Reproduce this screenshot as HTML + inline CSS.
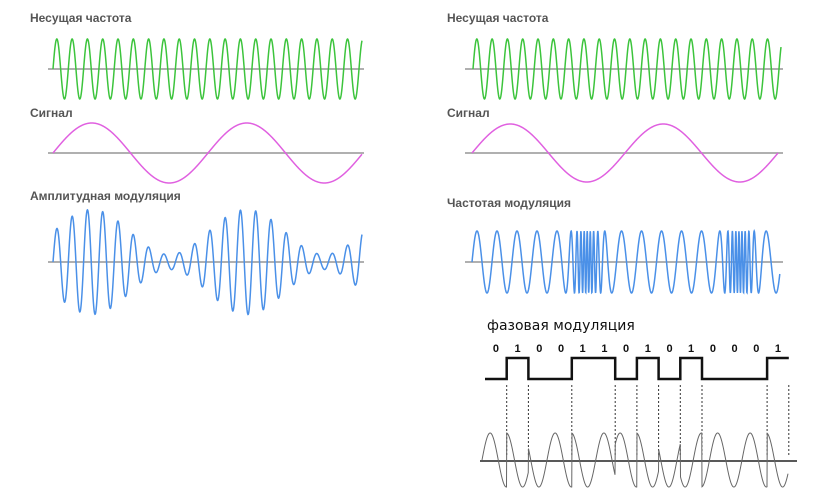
<!DOCTYPE html>
<html><head><meta charset="utf-8">
<style>
html,body{margin:0;padding:0;background:#fff;}
svg{display:block;}
.lbl{font-family:"Liberation Sans","DejaVu Sans",sans-serif;font-size:12px;font-weight:bold;fill:#555;}
.lbl2{font-family:"DejaVu Sans","Liberation Sans",sans-serif;font-size:14px;fill:#111;}
.bit{font-family:"Liberation Sans",sans-serif;font-size:11px;font-weight:bold;fill:#111;text-anchor:middle;}
</style></head>
<body>
<svg id="chart" width="814" height="494" viewBox="0 0 814 494" xmlns="http://www.w3.org/2000/svg">
<text class="lbl" x="30" y="22">Несущая частота</text>
<text class="lbl" x="30" y="117">Сигнал</text>
<text class="lbl" x="30" y="200">Амплитудная модуляция</text>
<text class="lbl" x="447" y="22">Несущая частота</text>
<text class="lbl" x="447" y="117">Сигнал</text>
<text class="lbl" x="447" y="207">Частотая модуляция</text>
<text class="lbl2" x="487" y="330">фазовая модуляция</text>
<g id="g"></g>
</svg>
<script>
const carrierPeriod = 15.3;
const signalPeriodL = 155;
const signalPeriodR = 153;
const amDepth = 0.75;
const fmMaxPeriod = 20;
const fmMinPeriod = 3;
const bits = [0,1,0,0,1,1,0,1,0,1,0,0,0,1];
const bitLabels = ["0","1","0","0","1","1","0","1","0","1","0","0","0","1"];
const pmPeriod = 32.5;

const NS="http://www.w3.org/2000/svg";
const g=document.getElementById('g');
function mk(tag,attrs){const e=document.createElementNS(NS,tag);for(const k in attrs)e.setAttribute(k,attrs[k]);g.appendChild(e);return e;}
function axis(x1,x2,y,name,col,w){const l=mk('line',{x1:x1,x2:x2,y1:y,y2:y,stroke:col||'#b0b0b0','stroke-width':w||2});

}
function wave(x0,x1,cy,fn,color,name,w){let d='';for(let x=x0;x<=x1;x+=0.25){const y=cy-fn(x);d+=(d?'L':'M')+x.toFixed(2)+' '+y.toFixed(2);}
const p=mk('path',{d:d,fill:'none',stroke:color,'stroke-width':w||1.5});

}
const T=2*Math.PI;
// left
axis(48,364,69,'carrier-axis-left');
wave(53,362,69,x=>30*Math.sin(T*(x-53)/carrierPeriod),'#3cc43c','carrier-wave-left');
axis(48,364,153,'signal-axis-left');
wave(53,362,153,x=>30*Math.sin(T*(x-53)/signalPeriodL),'#e060e0','signal-wave-left');
axis(48,364,262,'am-axis');
wave(53,362,262,x=>30*(1+amDepth*Math.sin(T*(x-53)/signalPeriodL))*Math.sin(T*(x-53)/carrierPeriod),'#4a90e8','am-wave');
// right
axis(465,783,69,'carrier-axis-right');
wave(473,781,69,x=>30*Math.sin(T*(x-473)/carrierPeriod),'#3cc43c','carrier-wave-right');
axis(465,783,153,'signal-axis-right');
wave(472,778,153,x=>29*Math.sin(T*(x-472)/signalPeriodR),'#e060e0','signal-wave-right');
axis(465,783,262,'fm-axis');
(function(){let d='',ph=0;const dx=0.2;for(let x=472;x<=780;x+=dx){const s=Math.sin(T*(x-472)/signalPeriodR);const k=Math.pow(Math.max(0,-s),6);const f=1/fmMaxPeriod+(1/fmMinPeriod-1/fmMaxPeriod)*k;const y=262-31*Math.sin(ph);ph+=T*f*dx;d+=(d?'L':'M')+x.toFixed(2)+' '+y.toFixed(2);}
const p=mk('path',{d:d,fill:'none',stroke:'#4a90e8','stroke-width':1.5});

})();
// phase modulation
const bx0=485,bw=21.7,yLow=379,yHigh=358;
let sq='M'+bx0+' '+(bits[0]?yHigh:yLow);
bits.forEach((b,i)=>{const y=b?yHigh:yLow;const xs=bx0+i*bw;sq+='L'+xs.toFixed(1)+' '+y+'L'+(xs+bw).toFixed(1)+' '+y;
const t=mk('text',{x:(xs+bw/2).toFixed(1),y:352,class:'bit'});t.textContent=bitLabels[i];


if(i>0&&bits[i]!==bits[i-1]){const dl=mk('line',{x1:xs,x2:xs,y1:385,y2:455,stroke:'#333','stroke-width':1,'stroke-dasharray':'2,2'});

}
});
const last=bx0+bits.length*bw;
{const dl=mk('line',{x1:last,x2:last,y1:385,y2:455,stroke:'#333','stroke-width':1,'stroke-dasharray':'2,2'});

}
const sp=mk('path',{d:sq,fill:'none',stroke:'#111','stroke-width':2.5});


axis(480,797,461,'pm-axis','#222',1.5);
wave(482,788,460,x=>{let i=Math.min(bits.length-1,Math.max(0,Math.floor((x-bx0)/bw)));let flips=0;for(let k=1;k<=i;k++)if(bits[k]!==bits[k-1])flips++;return 27*Math.sin(T*(x-482)/pmPeriod)*(flips%2?-1:1);},'#666','pm-wave',1);
</script>
</body></html>
